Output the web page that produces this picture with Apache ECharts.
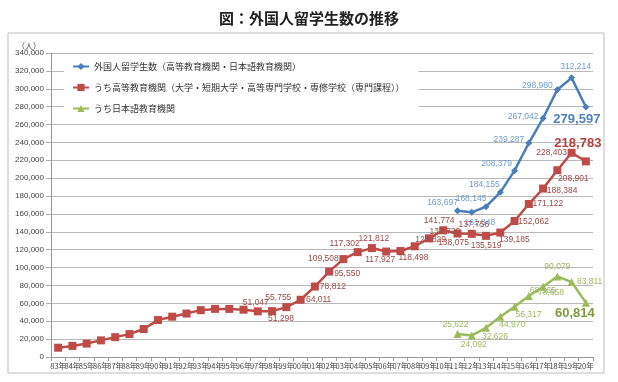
<!DOCTYPE html>
<html>
<head>
<meta charset="utf-8">
<script src="https://cdn.jsdelivr.net/npm/echarts@6/dist/echarts.min.js"></script>
<style>
html,body{margin:0;padding:0;background:#fff;}
#chart{width:618px;height:382px;}
</style>
</head>
<body>
<div id="chart"></div>
<script>
// ---- data ----
var categories = ['83年','84年','85年','86年','87年','88年','89年','90年','91年','92年','93年','94年','95年','96年','97年','98年','99年','00年','01年','02年','03年','04年','05年','06年','07年','08年','09年','10年','11年','12年','13年','14年','15年','16年','17年','18年','19年','20年'];

var totalStudents = [null,null,null,null,null,null,null,null,null,null,null,null,null,null,null,null,null,null,null,null,null,null,null,null,null,null,null,null,
  163697,161848,168145,184155,208379,239287,267042,298980,312214,279597];

var higherEducation = [10400,12400,15000,18600,22200,25600,31300,41300,45100,48600,52400,53800,53800,52900,
  51047,51298,55755,64011,78812,95550,109508,117302,121812,117927,118498,123829,132720,141774,
  138075,137756,135519,139185,152062,171122,188384,208901,228403,218783];

var languageSchools = [null,null,null,null,null,null,null,null,null,null,null,null,null,null,null,null,null,null,null,null,null,null,null,null,null,null,null,null,
  25622,24092,32626,44970,56317,68165,78658,90079,83811,60814];

var seriesNames = ['外国人留学生数（高等教育機関・日本語教育機関）','うち高等教育機関（大学・短期大学・高等専門学校・専修学校（専門課程））','うち日本語教育機関'];

// ---- label placement (pixel offsets of label centre from the point) ----
var blueOffsets = {28:[-15,-8],29:[8,10],30:[-15,-8],31:[-16,-8],32:[-18,-7],33:[-20,-3],34:[-20,-2],35:[-20,-4],36:[4,-11],37:[-9,12]};
var redOffsets = {14:[-2,-9],15:[9,8],16:[-8,-9],17:[18,0],18:[18,0],19:[18,2],20:[-20,0],21:[-13,-8],22:[2,-9],
  23:[-6,8],24:[13,7],25:[16,-7],26:[16,-7],27:[-4,-10],28:[-4,9],29:[2,-9],30:[0,10],31:[14,7],32:[19,1],33:[19,0],34:[19,2],35:[16,8],36:[-20,0],37:[-8,-18]};
var greenOffsets = {28:[-2,-9],29:[2,9],30:[9,9],31:[12,8],32:[14,8],33:[14,-5],34:[8,6],35:[0,-10],36:[18,0],37:[-11,11]};

function buildData(values, offsets, color, lastColor) {
  return values.map(function (v, i) {
    if (v == null) return null;
    var off = offsets[i];
    if (!off) return {value: v, label: {show: false}};
    var isLast = (i === values.length - 1);
    return {
      value: v,
      label: {
        show: true,
        position: 'inside',
        offset: off,
        align: 'center',
        verticalAlign: 'middle',
        color: isLast ? lastColor : color,
        fontSize: isLast ? 13 : 8.5,
        fontWeight: isLast ? 'bold' : 'normal',
        fontFamily: 'Liberation Sans, Arial, sans-serif',
        formatter: function (p) { return Number(p.value).toLocaleString('en-US'); }
      }
    };
  });
}

var chart = echarts.init(document.getElementById('chart'), null, {renderer: 'canvas'});
var option = {
  backgroundColor: '#fff',
  animation: false,
  title: {
    text: '図：外国人留学生数の推移',
    left: 'center',
    top: 6,
    textStyle: {fontSize: 15, fontWeight: 'bold', color: '#222', fontFamily: 'Noto Sans CJK JP'}
  },
  graphic: [
    {type: 'rect', shape: {x: 8, y: 33, width: 596, height: 340}, style: {fill: 'none', stroke: '#bdbdbd', lineWidth: 1}, z: -1},
    {type: 'text', left: 17, top: 42, style: {text: '（人）', fontSize: 8, fill: '#444', fontFamily: 'Noto Sans CJK JP'}}
  ],
  legend: {
    orient: 'vertical',
    left: 64,
    top: 59,
    itemGap: 12,
    itemWidth: 16,
    itemHeight: 9,
    padding: [3, 14, 3, 8],
    backgroundColor: '#fff',
    textStyle: {fontSize: 9, color: '#333', fontFamily: 'Noto Sans CJK JP'},
    data: seriesNames
  },
  grid: {left: 51, right: 25, top: 53, bottom: 25, containLabel: false},
  xAxis: {
    type: 'category',
    data: categories,
    boundaryGap: true,
    axisLine: {lineStyle: {color: '#999'}},
    axisTick: {show: true, interval: 0, length: 4, lineStyle: {color: '#999'}},
    axisLabel: {interval: 0, fontSize: 7.5, color: '#444', margin: 5, fontFamily: 'Noto Sans CJK JP'}
  },
  yAxis: {
    type: 'value',
    min: 0,
    max: 340000,
    interval: 20000,
    axisLine: {show: true, lineStyle: {color: '#999'}},
    axisTick: {show: true, length: 5, lineStyle: {color: '#aaa'}},
    splitLine: {lineStyle: {color: '#b8b8b8', width: 1}},
    axisLabel: {fontSize: 8, color: '#444', margin: 7, fontFamily: 'Liberation Sans, Arial, sans-serif',
      formatter: function (v) { return v.toLocaleString('en-US'); }}
  },
  series: [
    {
      name: seriesNames[0], type: 'line', data: buildData(totalStudents, blueOffsets, '#6f9bd1', '#4f81bd'),
      symbol: 'diamond', symbolSize: 7, connectNulls: false,
      lineStyle: {color: '#4a7ebb', width: 2.5}, itemStyle: {color: '#4a7ebb'}
    },
    {
      name: seriesNames[1], type: 'line', data: buildData(higherEducation, redOffsets, '#9a4a48', '#b5403c'),
      symbol: 'rect', symbolSize: 8,
      lineStyle: {color: '#be4b48', width: 2.5}, itemStyle: {color: '#be4b48'}
    },
    {
      name: seriesNames[2], type: 'line', data: buildData(languageSchools, greenOffsets, '#9db663', '#7f9a3f'),
      symbol: 'triangle', symbolSize: 8,
      lineStyle: {color: '#9bbb59', width: 2.5}, itemStyle: {color: '#9bbb59'}
    }
  ]
};
chart.setOption(option);
</script>
</body>
</html>
